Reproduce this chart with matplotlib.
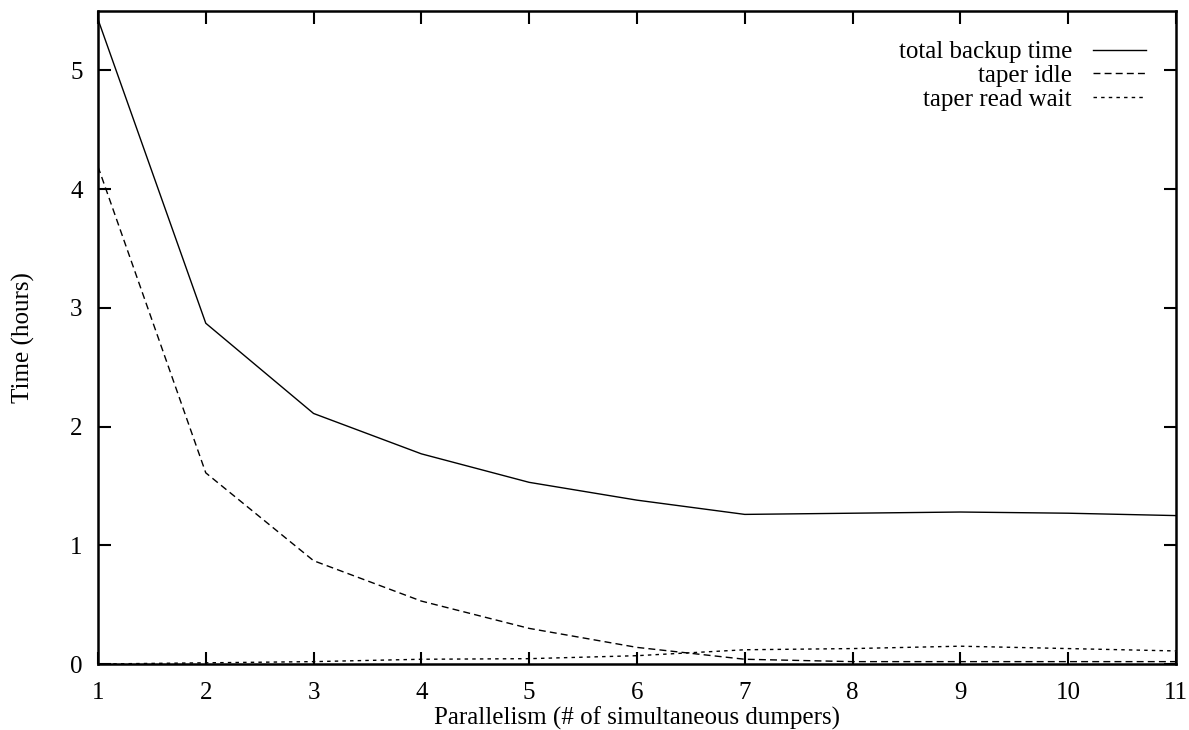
import matplotlib
matplotlib.use("Agg")
import matplotlib.pyplot as plt

plt.rcParams['font.family'] = ['Liberation Serif', 'DejaVu Serif']

parallelism = [1, 2, 3, 4, 5, 6, 7, 8, 9, 10, 11]
total_backup = [5.43, 2.87, 2.11, 1.77, 1.53, 1.38, 1.26, 1.27, 1.28, 1.27, 1.25]
taper_idle = [4.19, 1.61, 0.87, 0.53, 0.30, 0.14, 0.04, 0.02, 0.02, 0.02, 0.02]
taper_read_wait = [0.0, 0.01, 0.02, 0.04, 0.045, 0.07, 0.12, 0.13, 0.15, 0.13, 0.11]

fig, ax = plt.subplots(figsize=(11.89, 7.30), dpi=100)
fig.subplots_adjust(left=0.0824, right=0.989, top=0.985, bottom=0.0904)

ax.plot(parallelism, total_backup, color='black', lw=1.0, label='total backup time')
ax.plot(parallelism, taper_idle, color='black', lw=1.0, dashes=(5, 3), label='taper idle')
ax.plot(parallelism, taper_read_wait, color='black', lw=1.0, dashes=(2.5, 3), label='taper read wait')

ax.set_xlim(1, 11)
ax.set_ylim(0, 5.5)
ax.set_xticks(parallelism)
ax.set_yticks([0, 1, 2, 3, 4, 5])

fs = 18
ax.tick_params(direction='in', length=9, width=1.5, top=True, right=True,
               labelsize=fs)
ax.tick_params(axis='x', pad=13)
ax.tick_params(axis='y', pad=11)
for s in ax.spines.values():
    s.set_linewidth(1.8)

ax.set_xlabel('Parallelism (# of simultaneous dumpers)', fontsize=fs, labelpad=2)
ax.set_ylabel('Time (hours)', fontsize=fs, labelpad=25)

leg = ax.legend(loc='upper right', markerfirst=False, frameon=False,
                fontsize=fs, handlelength=2.1, handletextpad=0.85,
                labelspacing=0.05, borderaxespad=0, borderpad=0,
                bbox_to_anchor=(0.972, 0.954))

plt.savefig('out.png', dpi=100)
